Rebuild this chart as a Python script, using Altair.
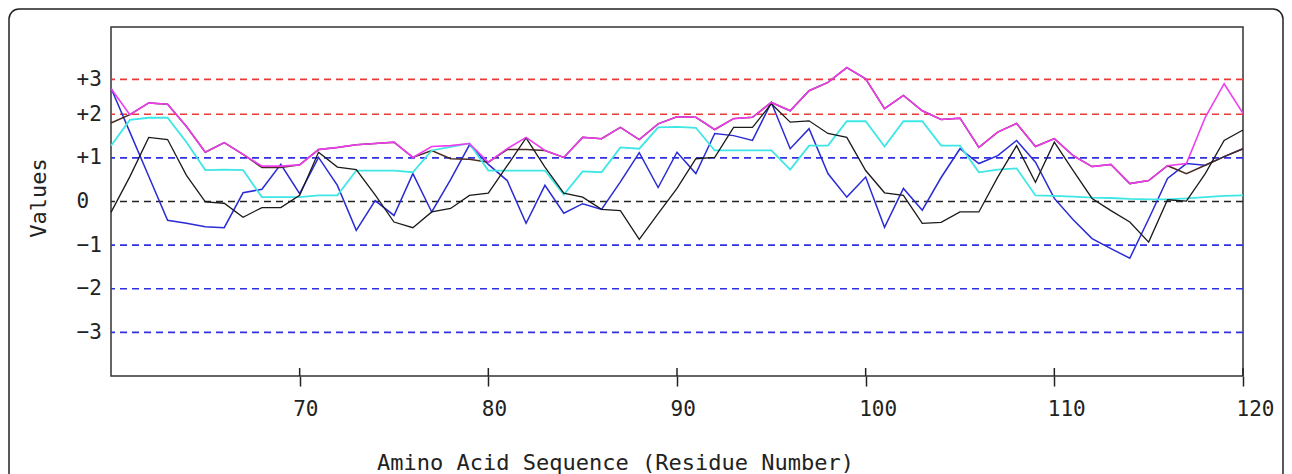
import altair as alt
import pandas as pd

residues = list(range(60, 121))

magenta = [2.59, 1.99, 2.26, 2.23, 1.72, 1.13, 1.35, 1.08, 0.81, 0.81, 0.84,
           1.19, 1.24, 1.30, 1.33, 1.36, 1.01, 1.26, 1.28, 1.33, 0.90,
           1.21, 1.47, 1.17, 1.01, 1.47, 1.44, 1.70, 1.42, 1.78, 1.94,
           1.93, 1.65, 1.90, 1.93, 2.27, 2.08, 2.54, 2.73, 3.07, 2.81,
           2.13, 2.43, 2.08, 1.88, 1.91, 1.24, 1.59, 1.79, 1.26, 1.44,
           1.05, 0.80, 0.85, 0.41, 0.48, 0.82, 0.87, 1.93, 2.70, 2.02]

cyan = [1.28, 1.87, 1.92, 1.92, 1.36, 0.72, 0.73, 0.72, 0.10, 0.10, 0.10,
        0.14, 0.14, 0.71, 0.71, 0.71, 0.67, 1.17, 1.25, 1.33, 0.71,
        0.71, 0.71, 0.71, 0.16, 0.69, 0.67, 1.24, 1.21, 1.70, 1.71,
        1.69, 1.17, 1.17, 1.17, 1.17, 0.73, 1.28, 1.28, 1.84, 1.84,
        1.26, 1.84, 1.84, 1.28, 1.28, 0.67, 0.73, 0.76, 0.14, 0.13,
        0.11, 0.09, 0.08, 0.06, 0.05, 0.05, 0.07, 0.10, 0.13, 0.14]

blue = [2.60, 1.59, 0.58, -0.43, -0.50, -0.58, -0.60, 0.20, 0.28, 0.85, 0.18,
        1.01, 0.37, -0.66, 0.02, -0.32, 0.64, -0.24, 0.50, 1.30, 0.85,
        0.48, -0.50, 0.37, -0.27, -0.05, -0.18, 0.45, 1.12, 0.32, 1.13,
        0.64, 1.56, 1.51, 1.40, 2.27, 1.21, 1.67, 0.64, 0.10, 0.56,
        -0.59, 0.30, -0.20, 0.55, 1.21, 0.87, 1.05, 1.40, 0.90, 0.07,
        -0.42, -0.85, -1.08, -1.30, -0.40, 0.53, 0.87, 0.83, 1.03, 1.21]

black = [-0.25, 0.57, 1.47, 1.42, 0.60, -0.01, -0.04, -0.36, -0.14, -0.14, 0.14,
         1.13, 0.79, 0.73, 0.15, -0.47, -0.60, -0.24, -0.16, 0.14, 0.19,
         0.82, 1.46, 0.79, 0.19, 0.10, -0.18, -0.21, -0.87, -0.28, 0.30,
         0.98, 1.01, 1.70, 1.70, 2.24, 1.82, 1.85, 1.56, 1.47, 0.71,
         0.20, 0.14, -0.50, -0.48, -0.24, -0.24, 0.56, 1.28, 0.44, 1.36,
         0.71, 0.07, -0.21, -0.47, -0.93, 0.04, 0.01, 0.64, 1.40, 1.64]

dark = [1.80, 1.99, 2.26, 2.23, 1.72, 1.13, 1.35, 1.08, 0.78, 0.78, 0.84,
        1.19, 1.24, 1.30, 1.33, 1.36, 1.01, 1.17, 0.98, 0.97, 0.90,
        1.19, 1.19, 1.17, 1.01, 1.47, 1.44, 1.70, 1.42, 1.78, 1.94,
        1.93, 1.65, 1.90, 1.93, 2.27, 2.08, 2.54, 2.73, 3.07, 2.81,
        2.13, 2.43, 2.08, 1.88, 1.91, 1.24, 1.59, 1.79, 1.26, 1.44,
        1.05, 0.80, 0.85, 0.41, 0.48, 0.82, 0.64, 0.83, 1.03, 1.21]

# draw order: first is bottom-most
series_order = ["blue", "dark", "cyan", "black", "magenta"]
series_values = {"blue": blue, "dark": dark, "cyan": cyan, "black": black, "magenta": magenta}
series_colors = {"blue": "#2b2bd6", "dark": "#4a2c22", "cyan": "#3ee6e6",
                 "black": "#1a1a1a", "magenta": "#ee3cee"}
series_widths = {"blue": 1.5, "dark": 1.5, "cyan": 1.8, "black": 1.3, "magenta": 1.6}

ref_values = [2.8, 2.0, 1.0, 0.0, -1.0, -2.0, -3.0]
ref_colors = ["#e83a3a", "#e83a3a", "#3030e0", "#222222", "#3030e0", "#3030e0", "#3030e0"]

x_ticks = [70, 80, 90, 100, 110, 120]

FONT = "DejaVu Sans Mono"
W, H = 1132, 349

x_enc = alt.X(
    "residue:Q",
    scale=alt.Scale(domain=[60, 120], nice=False, zero=False),
    axis=alt.Axis(
        values=x_ticks, format="d", grid=False, domain=False,
        tickSize=10, tickWidth=1.5, tickColor="#222",
        labelAlign="left", labelOffset=-7, labelBaseline="top", labelPadding=12,
        labelFont=FONT, labelFontSize=21, labelColor="#222",
        title="Amino Acid Sequence (Residue Number)",
        titleFont=FONT, titleFontSize=22, titleFontWeight="normal", titleColor="#222",
        titleX=504, titleY=86, titleAlign="center", titleBaseline="middle",
    ),
)

y_enc = alt.Y(
    "value:Q",
    scale=alt.Scale(domain=[-4, 4], nice=False, zero=False),
    axis=alt.Axis(
        values=ref_values,
        labelExpr="datum.value > 2.5 ? '+3' : (datum.value > 0 ? '+' + datum.value : (datum.value == 0 ? '0' : '\u2212' + (-datum.value)))",
        ticks=False, domain=False, grid=False,
        labelAlign="left", labelPadding=35, labelBaseline="middle",
        labelFont=FONT, labelFontSize=21, labelColor="#222",
        title="Values", titleFont=FONT, titleFontSize=22, titleFontWeight="normal",
        titleColor="#222", titleX=-73, titleY=H / 2 - 4, titleAngle=270,
        titleAlign="center", titleBaseline="middle",
    ),
)

# outer rounded frame (decoration)
frame = alt.Chart(pd.DataFrame({"a": [0]})).mark_rect(
    filled=False, stroke="#222", strokeWidth=1.5, cornerRadius=10
).encode(
    x=alt.value(-102), x2=alt.value(1172), y=alt.value(-18), y2=alt.value(470)
)

ref_df = pd.DataFrame({"value": ref_values, "color": ref_colors})
refs = alt.Chart(ref_df).mark_rule(strokeDash=[7, 5], strokeWidth=1.6).encode(
    y=y_enc, color=alt.Color("color:N", scale=None)
)

layers = [frame, refs]
for name in series_order:
    d = pd.DataFrame({"residue": residues, "value": series_values[name]})
    layers.append(
        alt.Chart(d).mark_line(color=series_colors[name], strokeWidth=series_widths[name]).encode(
            x=x_enc, y=y_enc
        )
    )

inner_ticks = alt.Chart(pd.DataFrame({"residue": x_ticks})).mark_rule(
    color="#222", strokeWidth=1.5
).encode(x=x_enc, y=alt.value(H - 8), y2=alt.value(H))
layers.append(inner_ticks)

chart = alt.layer(*layers).properties(
    width=W, height=H, padding=0, background="white"
).configure_view(stroke="#333", strokeWidth=1.5)

chart.save("out.html", embed_options={"renderer": "svg", "actions": False})
